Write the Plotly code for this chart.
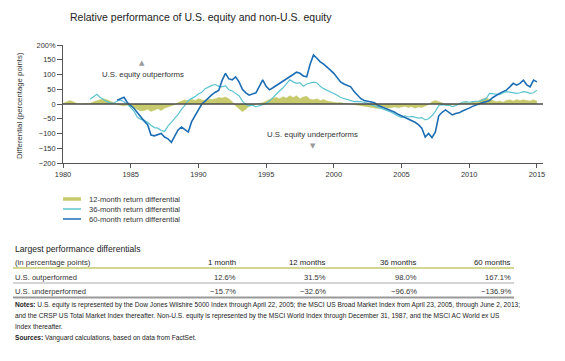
import plotly.graph_objects as go

# ---------------- data (quarterly readings, percentage points) ----------------
start12 = 1980.0
diff12 = [2, 8, 12, 8,   2, 0, 1, 0,   2, 8, 12, 15,   18, 14, 10, 4,
          -2, -5, -6, -3,   -8, -15, -20, -24,   -22, -18, -25, -20,   -16, -22, -14, -10,
          -6, -2, 5, 10,   14, 10, 16, 12,   18, 14, 12, 16,   15, 18, 22, 20,
          24, 18, 8, -6,   -15, -26, -18, -8,   -3, 0, 2, 4,   10, 15, 20, 22,
          18, 25, 20, 28,   22, 28, 18, 24,   26, 16, 14, 18,   12, 15, 10, 8,
          6, 4, 5, 2,   2, 0, -2, -3,   -4, -6, -10, -12,   -12, -15, -13, -10,
          -14, -12, -10, -13,   -10, -8, -12, -9,   -14, -10, -12, -6,   -2, 8, 12, 8,
          4, -4, -6, -2,   -5, 0, 4, 6,   2, 8, 5, 12,   18, 20, 15, 12,
          8, 10, 6, 12,   14, 10, 15, 12,   14, 12, 10, 14,   10]

start36 = 1982.0
diff36 = [16, 25, 33, 22,   14, 8, 4, 2,   10, 14, 8, 0,
          -12, -25, -45, -52,   -55, -62, -72, -80,   -82, -90, -93, -75,   -62, -50, -35, -18,
          -5, 12, 18, 25,   34, 40, 52, 58,   63, 66, 60, 58,   62, 48, 44, 36,
          28, 10, -2, -6,   -4, -10, -6, -2,   2, 10, 22, 35,   45, 55, 68, 82,
          75, 70, 72, 60,   68, 70, 74, 72,   60, 52, 47, 42,   36, 30, 22, 18,
          15, 10, 8, 9,   8, 6, 2, -2,   -6, -10, -15, -20,   -22, -28, -35, -42,
          -46, -40, -44, -42,   -45, -48, -46, -54,   -50, -40, -25, -5,   -2, -4, -3, -9,
          -6, 0, 6, 8,   6, 8, 8, 10,   14, 18, 36, 34,   34, 32, 38, 42,
          40, 38, 36, 38,   42, 40, 36, 38,   47]

start60 = 1984.0
diff60 = [13, 18, 23, 5,   -5, -15, -30, -45,   -58, -70, -105, -108,   -104, -100, -112, -118,
          -130, -110, -88, -78,   -88, -95, -60, -40,   -15, 0, 10, 22,   32, 40, 46, 80,
          104, 85, 82, 92,   75, 50, 38, 30,   34, 38, 60, 82,   60, 48, 55, 62,
          70, 78, 85, 92,   100, 108, 104, 95,   92, 135, 166, 155,   143, 135, 126, 115,
          104, 90, 75, 68,   62, 58, 42, 28,   18, 12, 10, 8,   4, -4, -9, -14,
          -18, -22, -28, -35,   -40, -45, -52, -56,   -62, -70, -82, -112,   -100, -114, -95, -40,
          -28, -20, -30, -37,   -32, -30, -24, -20,   -14, -8, -3, 2,   5, 8, 12, 22,
          30, 36, 42, 47,   58, 70, 64, 70,   81, 65, 58, 81,   75]

x_ticks = [1980, 1985, 1990, 1995, 2000, 2005, 2010, 2015]
y_ticks = [200, 150, 100, 50, 0, -50, -100, -150, -200]
y_ticktext = ["200%", "150", "100", "50", "0", "\u221250", "\u2212100", "\u2212150", "\u2212200"]

table_cols = ["1 month", "12 months", "36 months", "60 months"]
row_labels = ["U.S. outperformed", "U.S. underperformed"]
row_out = ["12.6%", "31.5%", "98.0%", "167.1%"]
row_under = ["\u221215.7%", "\u221232.6%", "\u221296.6%", "\u2212136.9%"]

legend_labels = ["12-month return differential", "36-month return differential",
                 "60-month return differential"]

# ---------------- styling ----------------
OLIVE = "#c6ca6c"
CYAN = "#5cc3d0"
BLUE = "#1d6db4"
TXT = "#333333"
FONT = "Liberation Sans, Arial, sans-serif"
NARROW = "Liberation Sans Narrow, Arial Narrow, Liberation Sans, sans-serif"

OFF = 8  # default page body margin
W_FIG, H_FIG = 565 - OFF, 361 - OFF
L, R, T, B = 63 - OFF, 543 - OFF, 45 - OFF, 163 - OFF
PW, PH = R - L, B - T


def px(x):
    return (x - OFF - L) / PW


def py(y):
    return (B - (y - OFF)) / PH


x12 = [start12 + i / 4 for i in range(len(diff12))]
x36 = [start36 + i / 4 for i in range(len(diff36))]
x60 = [start60 + i / 4 for i in range(len(diff60))]

fig = go.Figure()
fig.add_trace(go.Scatter(x=x12, y=diff12, mode="lines", fill="tozeroy",
                         fillcolor=OLIVE, line=dict(color=OLIVE, width=0.5),
                         name=legend_labels[0], showlegend=False))
fig.add_trace(go.Scatter(x=x36, y=diff36, mode="lines",
                         line=dict(color=CYAN, width=1.2),
                         name=legend_labels[1], showlegend=False))
fig.add_trace(go.Scatter(x=x60, y=diff60, mode="lines",
                         line=dict(color=BLUE, width=1.6),
                         name=legend_labels[2], showlegend=False))

shapes = []
annotations = []

# zero line
shapes.append(dict(type="line", xref="paper", yref="y", x0=0, x1=1, y0=0, y1=0,
                   line=dict(color="#4a4a4a", width=1.5), layer="above"))

# title
annotations.append(dict(text="Relative performance of U.S. equity and non-U.S. equity",
                        xref="paper", yref="paper", x=px(68), y=py(17),
                        xanchor="left", yanchor="middle", showarrow=False,
                        font=dict(family=FONT, size=10.5, color="#222")))

# y-axis title
annotations.append(dict(text="Differential (percentage points)", textangle=-90,
                        xref="paper", yref="paper", x=px(19), y=py(106),
                        xanchor="center", yanchor="middle", showarrow=False,
                        font=dict(family=FONT, size=7.8, color=TXT)))

# in-plot annotations
annotations.append(dict(text="U.S. equity outperforms", xref="paper", yref="paper",
                        x=px(100), y=py(74), xanchor="left", yanchor="middle",
                        showarrow=False, font=dict(family=FONT, size=7.8, color=TXT)))
annotations.append(dict(text="\u25B2", xref="paper", yref="paper",
                        x=px(142), y=py(63), xanchor="center", yanchor="middle",
                        showarrow=False, font=dict(family="DejaVu Sans", size=7, color="#999")))
annotations.append(dict(text="U.S. equity underperforms", xref="paper", yref="paper",
                        x=px(265), y=py(134), xanchor="left", yanchor="middle",
                        showarrow=False, font=dict(family=FONT, size=7.8, color=TXT)))
annotations.append(dict(text="\u25BC", xref="paper", yref="paper",
                        x=px(313), y=py(146), xanchor="center", yanchor="middle",
                        showarrow=False, font=dict(family="DejaVu Sans", size=7, color="#999")))

# legend (manual)
leg_y = [199, 209, 219]
leg_col = [OLIVE, CYAN, BLUE]
leg_w = [3.5, 1.5, 1.5]
for lab, yy, c, w in zip(legend_labels, leg_y, leg_col, leg_w):
    shapes.append(dict(type="line", xref="paper", yref="paper",
                       x0=px(63), x1=px(81), y0=py(yy), y1=py(yy),
                       line=dict(color=c, width=w)))
    annotations.append(dict(text=lab, xref="paper", yref="paper", x=px(87), y=py(yy),
                            xanchor="left", yanchor="middle", showarrow=False,
                            font=dict(family=FONT, size=7.6, color=TXT)))

# table
annotations.append(dict(text="Largest performance differentials", xref="paper", yref="paper",
                        x=px(13), y=py(249), xanchor="left", yanchor="middle",
                        showarrow=False, font=dict(family=FONT, size=8.6, color="#222")))
annotations.append(dict(text="(in percentage points)", xref="paper", yref="paper",
                        x=px(13), y=py(262), xanchor="left", yanchor="middle",
                        showarrow=False, font=dict(family=FONT, size=7.8, color=TXT)))
col_x = [238, 328, 419, 513]
for cx, h in zip(col_x, table_cols):
    annotations.append(dict(text=h, xref="paper", yref="paper", x=px(cx), y=py(262),
                            xanchor="right", yanchor="middle", showarrow=False,
                            font=dict(family=FONT, size=7.8, color="#222")))
for ry, lab, vals in zip([277, 291], row_labels, [row_out, row_under]):
    annotations.append(dict(text=lab, xref="paper", yref="paper", x=px(13), y=py(ry),
                            xanchor="left", yanchor="middle", showarrow=False,
                            font=dict(family=FONT, size=7.6, color=TXT)))
    for cx, v in zip(col_x, vals):
        annotations.append(dict(text=v, xref="paper", yref="paper", x=px(cx), y=py(ry),
                                xanchor="right", yanchor="middle", showarrow=False,
                                font=dict(family=FONT, size=7.6, color=TXT)))
shapes.append(dict(type="line", xref="paper", yref="paper", x0=px(13), x1=px(514),
                   y0=py(268), y1=py(268), line=dict(color=OLIVE, width=1.5)))
shapes.append(dict(type="line", xref="paper", yref="paper", x0=px(13), x1=px(514),
                   y0=py(283), y1=py(283), line=dict(color="#aaaaaa", width=1)))
shapes.append(dict(type="line", xref="paper", yref="paper", x0=px(13), x1=px(514),
                   y0=py(297.5), y1=py(297.5), line=dict(color="#999999", width=2)))

# notes
notes = [
    "<b>Notes:</b> U.S. equity is represented by the Dow Jones Wilshire 5000 Index through April 22, 2005; the MSCI US Broad Market Index from April 23, 2005, through June 2, 2013;",
    "and the CRSP US Total Market Index thereafter. Non-U.S. equity is represented by the MSCI World Index through December 31, 1987, and the MSCI AC World ex US",
    "Index thereafter.",
]
for ny, t in zip([305.5, 316, 326.5], notes):
    annotations.append(dict(text=t, xref="paper", yref="paper", x=px(13), y=py(ny),
                            xanchor="left", yanchor="middle", showarrow=False,
                            font=dict(family=NARROW, size=6.6, color="#222")))
annotations.append(dict(text="<b>Sources:</b> Vanguard calculations, based on data from FactSet.",
                        xref="paper", yref="paper", x=px(13), y=py(338),
                        xanchor="left", yanchor="middle", showarrow=False,
                        font=dict(family=NARROW, size=6.6, color="#222")))

fig.update_layout(
    width=W_FIG, height=H_FIG,
    margin=dict(l=L, r=W_FIG - R, t=T, b=H_FIG - B, pad=0),
    paper_bgcolor="white", plot_bgcolor="white",
    showlegend=False,
    shapes=shapes, annotations=annotations,
    xaxis=dict(range=[1980, 2015.45], tickvals=x_ticks, ticktext=[str(v) for v in x_ticks],
               showline=True, linecolor="#555", linewidth=1,
               ticks="outside", ticklen=4, tickcolor="#555", tickwidth=1,
               showgrid=False, zeroline=False,
               tickfont=dict(family=FONT, size=7.4, color=TXT)),
    yaxis=dict(range=[-200, 200], tickvals=y_ticks, ticktext=y_ticktext,
               showline=True, linecolor="#555", linewidth=1,
               ticks="outside", ticklen=5, tickcolor="#555", tickwidth=1,
               showgrid=False, zeroline=False,
               tickfont=dict(family=FONT, size=7.4, color=TXT)),
)

fig.write_html("out.html")
